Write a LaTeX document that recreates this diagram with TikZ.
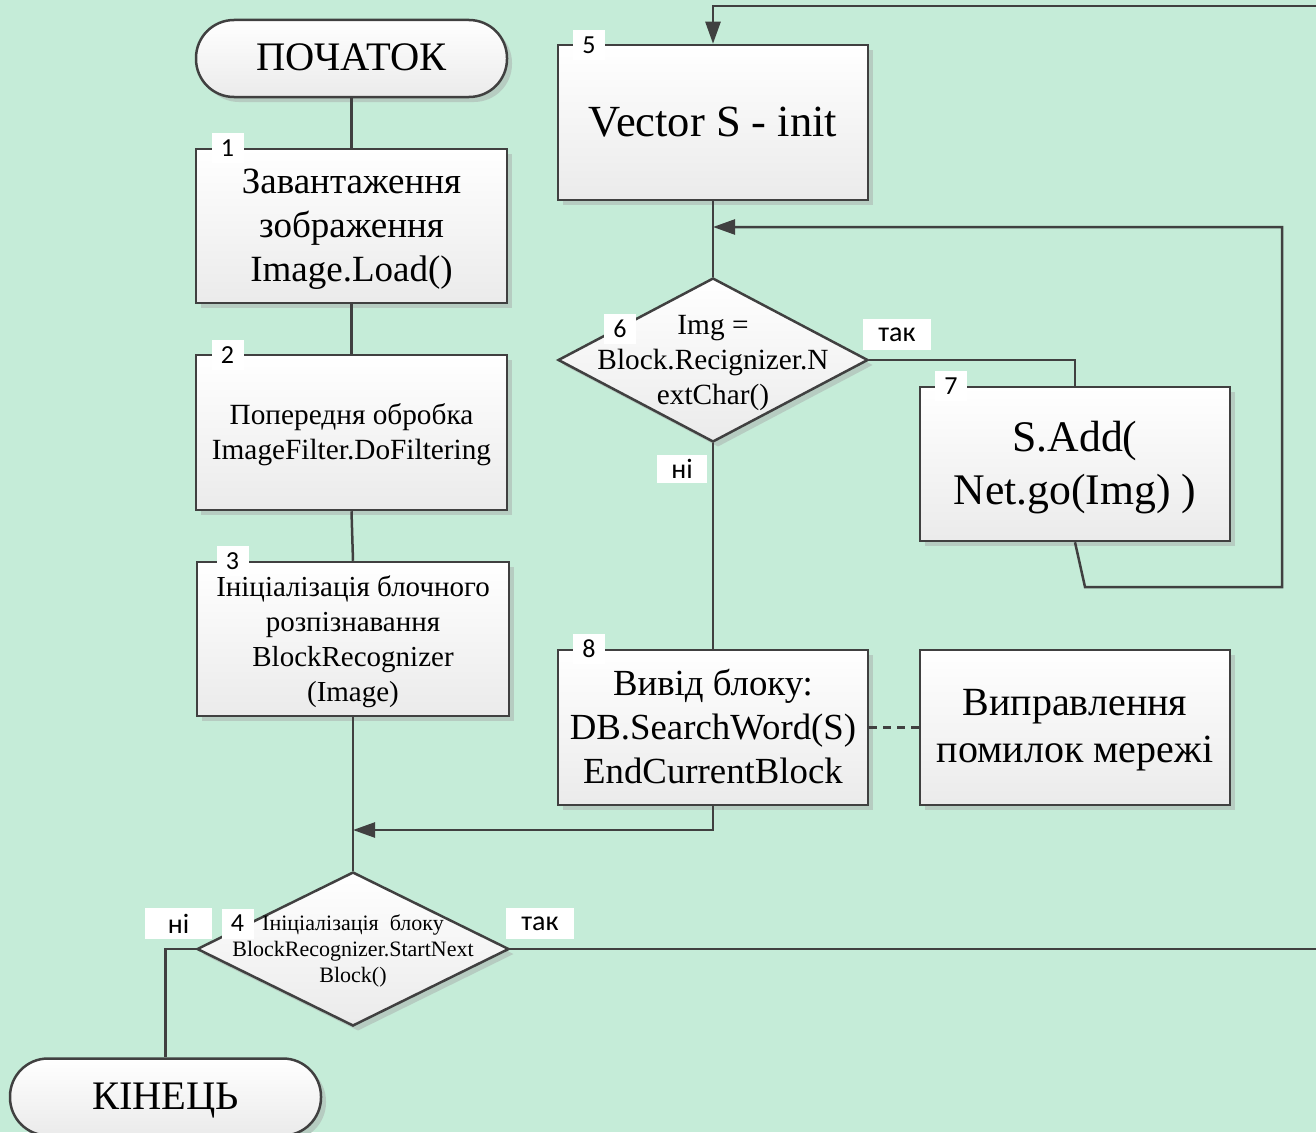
\documentclass[tikz,border=0pt]{standalone}
\usepackage{fontspec}
\setmainfont{Liberation Serif}
\newfontfamily\numfont{Carlito}
\usetikzlibrary{arrows.meta,shapes.geometric,shadows}
\definecolor{bg}{RGB}{197,236,216}
\definecolor{edgec}{RGB}{64,64,64}
\definecolor{shd}{RGB}{182,204,193}
\tikzset{
  shadowed/.style={general shadow={fill=shd, shadow xshift=5pt, shadow yshift=-5pt}},
  shadeit/.style={top color=white, bottom color=black!8},
  box/.style={draw=edgec, line width=2.5pt, shadeit, shadowed, inner sep=0pt,
    minimum width=311pt, minimum height=154pt},
  term/.style={draw=edgec, line width=2.5pt, shadeit, shadowed, inner sep=0pt,
    rounded corners=38pt, minimum width=311pt, minimum height=77pt},
  dia/.style={draw=edgec, line width=2.5pt, shadeit, shadowed, shape=diamond, inner sep=0pt},
  txt/.style={align=center, inner sep=0pt},
  numlab/.style={fill=white, inner sep=0pt, minimum width=32pt, minimum height=30pt,
    font=\numfont\fontsize{26}{26}\selectfont},
  anslab/.style={fill=white, inner sep=0pt, minimum height=31pt,
    font=\numfont\fontsize{28}{28}\selectfont},
  conn/.style={draw=edgec, line width=2.5pt},
  arr/.style={conn, -{Triangle[length=22pt,width=15pt]}},
}
\begin{document}
\begin{tikzpicture}[x=1pt,y=-1pt]
\useasboundingbox (0,0) rectangle (1316,1132);
\fill[bg] (0,0) rectangle (1316,1132);
\clip (0,0) rectangle (1316,1132);

% shapes
\node[term] (start) at (351.5,58.5) {};
\node[box] (b1) at (351.5,226) {};
\node[box, minimum height=155pt] (b2) at (351.5,432.5) {};
\node[box, minimum width=312pt] (b3) at (353,639) {};
\node[dia, minimum width=312pt, minimum height=154pt] (d4) at (353,949) {};
\node[term] (end) at (165.5,1097) {};
\node[box, minimum width=310pt, minimum height=155pt] (b5) at (713,122.5) {};
\node[dia, minimum width=310pt, minimum height=164pt] (d6) at (713,360) {};
\node[box, minimum width=310pt] (b7) at (1075,464) {};
\node[box, minimum width=310pt, minimum height=155pt] (b8) at (713,727.5) {};
\node[box, minimum width=310pt, minimum height=155pt] (b9) at (1075,727.5) {};

% texts
\node[txt, font=\fontsize{40.5}{44}\selectfont] (startt) at ([yshift=1pt]start.center) {ПОЧАТОК};
\node[txt, font=\fontsize{37}{44}\selectfont] (b1t) at ([yshift=-3pt]b1.center) {Завантаження\\зображення\\Image.Load()};
\node[txt, font=\fontsize{29.3}{35}\selectfont] (b2t) at ([yshift=-2pt]b2.center) {Попередня обробка\\ImageFilter.DoFiltering};
\node[txt, font=\fontsize{29}{35}\selectfont] (b3t) at ([yshift=-3pt]b3.center) {Ініціалізація блочного\\розпізнавання\\BlockRecognizer\\(Image)};
\node[txt, font=\fontsize{22}{26}\selectfont] (d4t) at ([yshift=-2pt]d4.center) {Ініціалізація\ \ блоку\\BlockRecognizer.StartNext\\Block()};
\node[txt, font=\fontsize{40.5}{44}\selectfont] (endt) at ([yshift=-4pt]end.center) {КІНЕЦЬ};
\node[txt, font=\fontsize{44.5}{50}\selectfont] (b5t) at (b5.center) {Vector S - init};
\node[txt, font=\fontsize{29.3}{35}\selectfont] (d6t) at ([yshift=-3.5pt]d6.center) {Img =\\Block.Recignizer.N\\extChar()};
\node[txt, font=\fontsize{43.7}{53}\selectfont] (b7t) at ([yshift=-3.5pt]b7.center) {S.Add(\\Net.go(Img) )};
\node[txt, font=\fontsize{36.8}{44}\selectfont] (b8t) at ([yshift=1.5pt]b8.center) {Вивід блоку:\\DB.SearchWord(S)\\EndCurrentBlock};
\node[txt, font=\fontsize{40}{47}\selectfont] (b9t) at ([yshift=-3pt]b9.center) {Виправлення\\помилок мережі};

% coordinates
\coordinate (m4) at (353,830);
\coordinate (m6) at (713,227);
\coordinate (lpA) at (1085,587);
\coordinate (lpB) at (1282,587);
\coordinate (rt) at (1340,6);

% connectors
\draw[conn] (start.south) -- (b1.north);
\draw[conn] (b1.south) -- (b2.north);
\draw[conn] (b2.south) -- (b3.north);
\draw[conn] (b3.south) -- (d4.north);
\draw[arr] (b8.south) |- (m4);
\draw[conn] (d4.west) -| (end.north);
\draw[arr] (d4.east) -- (d4.east -| rt) -- (rt) -- (b5.north |- rt) -- (b5.north);
\draw[conn] (b5.south) -- (d6.north);
\draw[conn] (d6.east) -| (b7.north);
\draw[arr] (b7.south) -- (lpA) -- (lpB) |- (m6);
\draw[conn] (d6.south) -- (b8.north);
\draw[conn, dash pattern=on 8pt off 6pt] (b8.east) -- (b9.west);

% number labels
\node[numlab] (n1) at (227.5,148) {1};
\node[numlab] (n2) at (227.5,355) {2};
\node[numlab] (n3) at (232.5,561) {3};
\node[numlab] (n4) at (237.5,923.5) {4};
\node[numlab] (n5) at (589,45) {5};
\node[numlab] (n6) at (620,328.5) {6};
\node[numlab] (n7) at (951,386) {7};
\node[numlab] (n8) at (589,649) {8};

% answer labels
\node[anslab, minimum width=68pt] (y6) at (897,334.5) {так};
\node[anslab, minimum width=50pt, minimum height=28pt] (n6l) at (682,469) {ні};
\node[anslab, minimum width=67pt] (n4l) at (178.5,923.5) {ні};
\node[anslab, minimum width=68pt] (y4) at (540,923.5) {так};
\end{tikzpicture}
\end{document}
